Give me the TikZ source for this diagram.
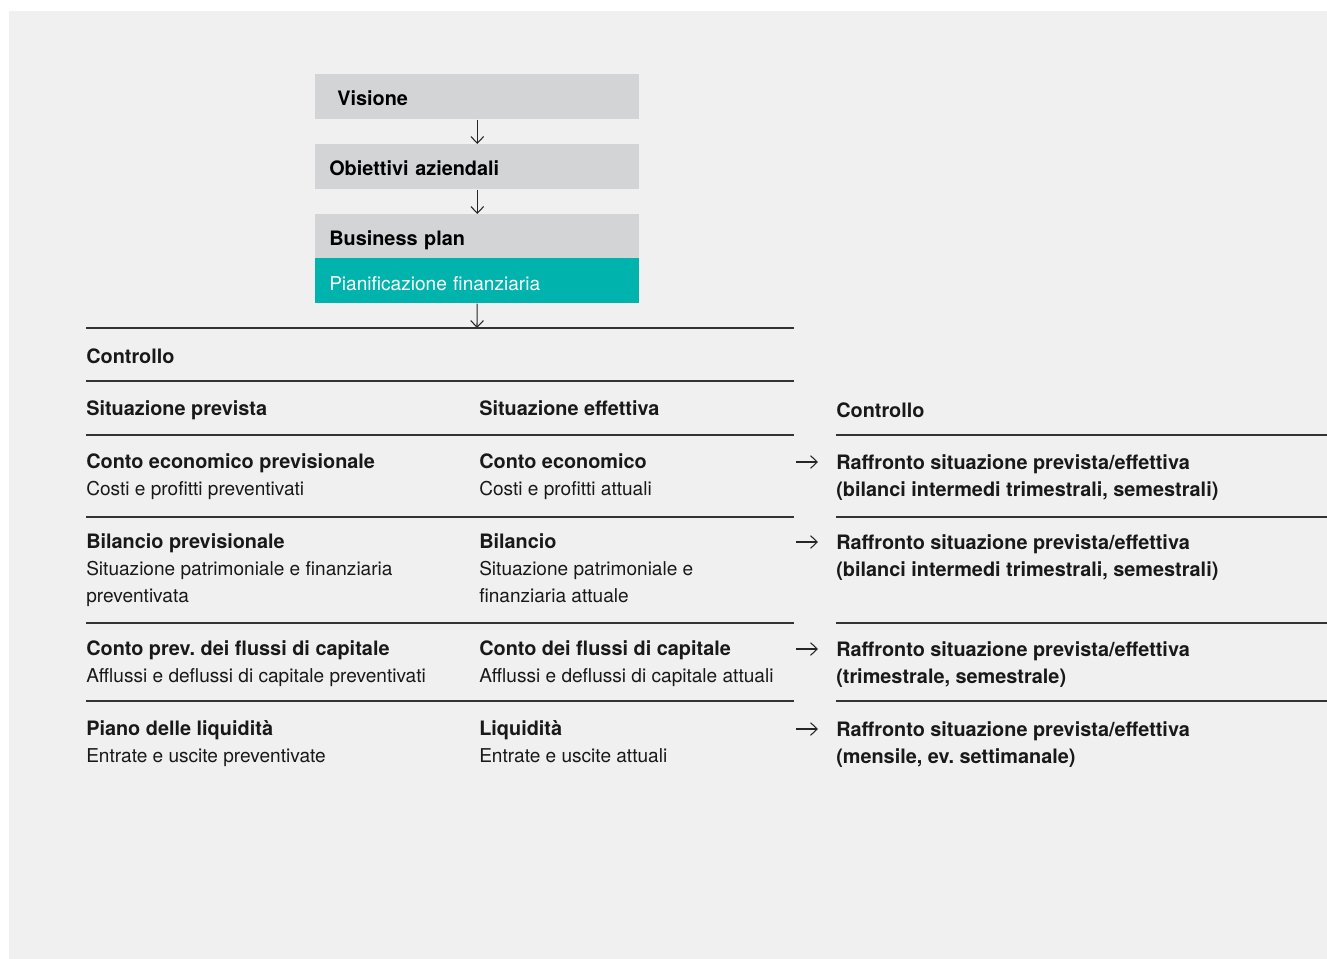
\documentclass[tikz,border=0pt]{standalone}
\usepackage{fontspec}
\setmainfont{TeX Gyre Heros}
\usetikzlibrary{arrows.meta}
\definecolor{bggray}{HTML}{F0F0F0}
\definecolor{boxgray}{HTML}{D3D4D6}
\definecolor{finteal}{HTML}{00B4AD}
\definecolor{rulegray}{HTML}{333333}
\newcommand{\hd}[1]{{\fontsize{14.9}{20.25}\selectfont\bfseries #1}}
\frenchspacing

\begin{document}
\begin{tikzpicture}[x=0.75pt, y=-0.75pt,
		rule/.style={draw=rulegray, line width=1.1pt},
		arr/.style={draw=black!85, line width=0.8pt, -{Straight Barb[length=5pt, width=9.5pt]}},
		box/.style={anchor=north west, fill=boxgray, minimum width=243pt, minimum height=33.75pt,
			text width=222pt, inner xsep=10.5pt, inner ysep=0pt, text height=12.8pt, text depth=0pt,
			align=left, font=\fontsize{14.9}{20.25}\selectfont\bfseries},
		txt/.style={anchor=base west, inner sep=0pt, align=left, text=black!90,
			font=\fontsize{14.3}{20.25}\selectfont}]
				\useasboundingbox (0, 0) rectangle (1327, 959);
				\fill[white] (0, 0) rectangle (1327, 959);
				\fill[bggray] (9, 11) rectangle (1327, 959);

				\node[box] (vis) at (315, 74) {\hspace*{6pt}Visione};
				\node[box] (obj) at (315, 144) {Obiettivi aziendali};
				\node[box, minimum height=33pt, text height=13.5pt] (bp) at (315, 214) {Business plan};
				\node[box, fill=finteal, text=white, text height=14.2pt, font=\fontsize{14.3}{20.25}\selectfont] (fin) at (315, 258) {Pianificazione finanziaria};
				\coordinate (ctl) at (477, 328);
				\draw[arr] (vis) -- (obj);
				\draw[arr] (obj) -- (bp);
				\draw[arr] (fin) -- (ctl);

				\draw[rule]
				(86, 328) -- (794, 328)
				(86, 381) -- (794, 381)
				(86, 435) -- (794, 435) (836, 435) -- (1327, 435)
				(86, 517) -- (794, 517) (836, 517) -- (1327, 517)
				(86, 623) -- (794, 623) (836, 623) -- (1327, 623)
				(86, 701) -- (794, 701) (836, 701) -- (1327, 701)
				;

				\node[txt] (ctrl) at (86, 363) {\hd{Controllo}};
				\node[txt] (prev) at (86, 415) {\hd{Situazione prevista}};
				\node[txt] (eff) at (479, 415) {\hd{Situazione effettiva}};
				\node[txt] (cmp) at (836, 417) {\hd{Controllo}};

				\node[txt] (p1) at (86, 495) {\hd{Conto economico previsionale}\\Costi e profitti preventivati};
				\node[txt] (p2) at (86, 602) {\hd{Bilancio previsionale}\\Situazione patrimoniale e finanziaria\\preventivata};
				\node[txt] (p3) at (86, 682) {\hd{Conto prev. dei flussi di capitale}\\Afflussi e deflussi di capitale preventivati};
				\node[txt] (p4) at (86, 762) {\hd{Piano delle liquidità}\\Entrate e uscite preventivate};

				\node[txt] (e1) at (479, 495) {\hd{Conto economico}\\Costi e profitti attuali};
				\node[txt] (e2) at (479, 602) {\hd{Bilancio}\\Situazione patrimoniale e\\finanziaria attuale};
				\node[txt] (e3) at (479, 682) {\hd{Conto dei flussi di capitale}\\Afflussi e deflussi di capitale attuali};
				\node[txt] (e4) at (479, 762) {\hd{Liquidità}\\Entrate e uscite attuali};

				\node[txt] (r1) at (836, 496) {\hd{Raffronto situazione prevista/effettiva}\\\hd{(bilanci intermedi trimestrali, semestrali)}};
				\node[txt] (r2) at (836, 576) {\hd{Raffronto situazione prevista/effettiva}\\\hd{(bilanci intermedi trimestrali, semestrali)}};
				\node[txt] (r3) at (836, 683) {\hd{Raffronto situazione prevista/effettiva}\\\hd{(trimestrale, semestrale)}};
				\node[txt] (r4) at (836, 763) {\hd{Raffronto situazione prevista/effettiva}\\\hd{(mensile, ev. settimanale)}};

				\draw[arr] (r1.base west) ++(-40, -34) -- ++(22, 0);
				\draw[arr] (r2.base west) ++(-40, -34) -- ++(22, 0);
				\draw[arr] (r3.base west) ++(-40, -34) -- ++(22, 0);
				\draw[arr] (r4.base west) ++(-40, -34) -- ++(22, 0);
			\end{tikzpicture}
\end{document}
